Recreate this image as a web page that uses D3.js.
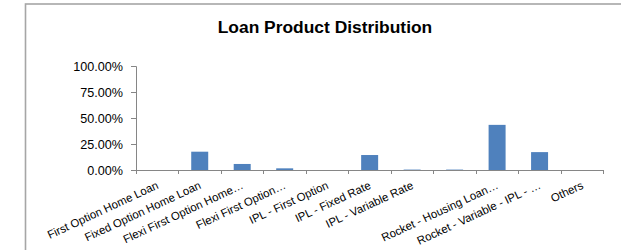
<!DOCTYPE html>
<html>
<head>
<meta charset="utf-8">
<script src="https://cdn.jsdelivr.net/npm/d3@7"></script>
<style>
  body { margin: 0; background: #fff; }
  svg { display: block; font-family: Arial, "Liberation Sans", sans-serif; }
</style>
</head>
<body>
<svg id="chart" width="621" height="250"></svg>
<script>
// chart data
var categories = [
  "First Option Home Loan",
  "Fixed Option Home Loan",
  "Flexi First Option Home\u2026",
  "Flexi First Option\u2026",
  "IPL - First Option",
  "IPL - Fixed Rate",
  "IPL - Variable Rate",
  "",
  "Rocket - Housing Loan\u2026",
  "Rocket - Variable - IPL - \u2026",
  "Others"
];
var shares = [0, 0.176, 0.058, 0.016, 0, 0.144, 0.004, 0.004, 0.434, 0.172, 0];
var yTicks = [0, 0.25, 0.5, 0.75, 1];

var cfg = {
  left: 136,
  right: 603.3,
  top: 66,
  bottom: 170,
  barColor: "#4f81bd",
  axisColor: "#868686",
  labelAngle: -25
};

var svg = d3.select("#chart");

// outer chart frame (runs off the right / bottom edge)
svg.append("rect")
  .attr("x", 25.5).attr("y", 4)
  .attr("width", 700).attr("height", 400)
  .attr("fill", "#fff")
  .attr("stroke", "#a6a6a6")
  .attr("stroke-width", 1.6);

// title
svg.append("text")
  .attr("x", 325).attr("y", 32.5)
  .attr("text-anchor", "middle")
  .attr("font-weight", "bold")
  .attr("font-size", 17.4)
  .attr("fill", "#000")
  .text("Loan Product Distribution");

var idx = d3.range(categories.length);
var x = d3.scaleBand().domain(idx).range([cfg.left, cfg.right]).padding(0);
var y = d3.scaleLinear().domain([0, 1]).range([cfg.bottom, cfg.top]);

// y axis
var yAxis = svg.append("g")
  .attr("transform", "translate(" + cfg.left + ",0)")
  .call(d3.axisLeft(y).tickValues(yTicks).tickFormat(d3.format(".2%")).tickSize(5).tickPadding(8));
yAxis.select(".domain").attr("stroke", cfg.axisColor);
yAxis.selectAll(".tick line").attr("stroke", cfg.axisColor);
yAxis.selectAll(".tick text")
  .attr("font-size", 12.6)
  .attr("font-family", "Arial, 'Liberation Sans', sans-serif")
  .attr("fill", "#000");

// bars
var barW = x.bandwidth() * 0.4;
svg.selectAll(".bar")
  .data(shares)
  .enter()
  .append("rect")
  .attr("class", "bar")
  .attr("x", function(d, i) { return x(i) + (x.bandwidth() - barW) / 2; })
  .attr("y", function(d) { return y(d); })
  .attr("width", barW)
  .attr("height", function(d) { return y(0) - y(d); })
  .attr("fill", cfg.barColor);

// x axis line with ticks on category boundaries
var bounds = idx.map(function(i) { return x(i); }).concat([cfg.right]);
var xg = svg.append("g");
xg.append("line")
  .attr("x1", cfg.left).attr("x2", cfg.right)
  .attr("y1", cfg.bottom + 0.5).attr("y2", cfg.bottom + 0.5)
  .attr("stroke", cfg.axisColor);
xg.selectAll(".xtick")
  .data(bounds)
  .enter()
  .append("line")
  .attr("class", "xtick")
  .attr("x1", function(d) { return Math.round(d) + 0.5; })
  .attr("x2", function(d) { return Math.round(d) + 0.5; })
  .attr("y1", cfg.bottom).attr("y2", cfg.bottom + 4)
  .attr("stroke", cfg.axisColor);

// rotated category labels
xg.selectAll(".xlabel")
  .data(categories)
  .enter()
  .append("text")
  .attr("class", "xlabel")
  .attr("text-anchor", "end")
  .attr("font-size", 11.4)
  .attr("fill", "#000")
  .attr("transform", function(d, i) {
    return "translate(" + (x(i) + x.bandwidth() / 2 + 2) + "," + 188 + ") rotate(" + cfg.labelAngle + ")";
  })
  .text(function(d) { return d; });
</script>
</body>
</html>
